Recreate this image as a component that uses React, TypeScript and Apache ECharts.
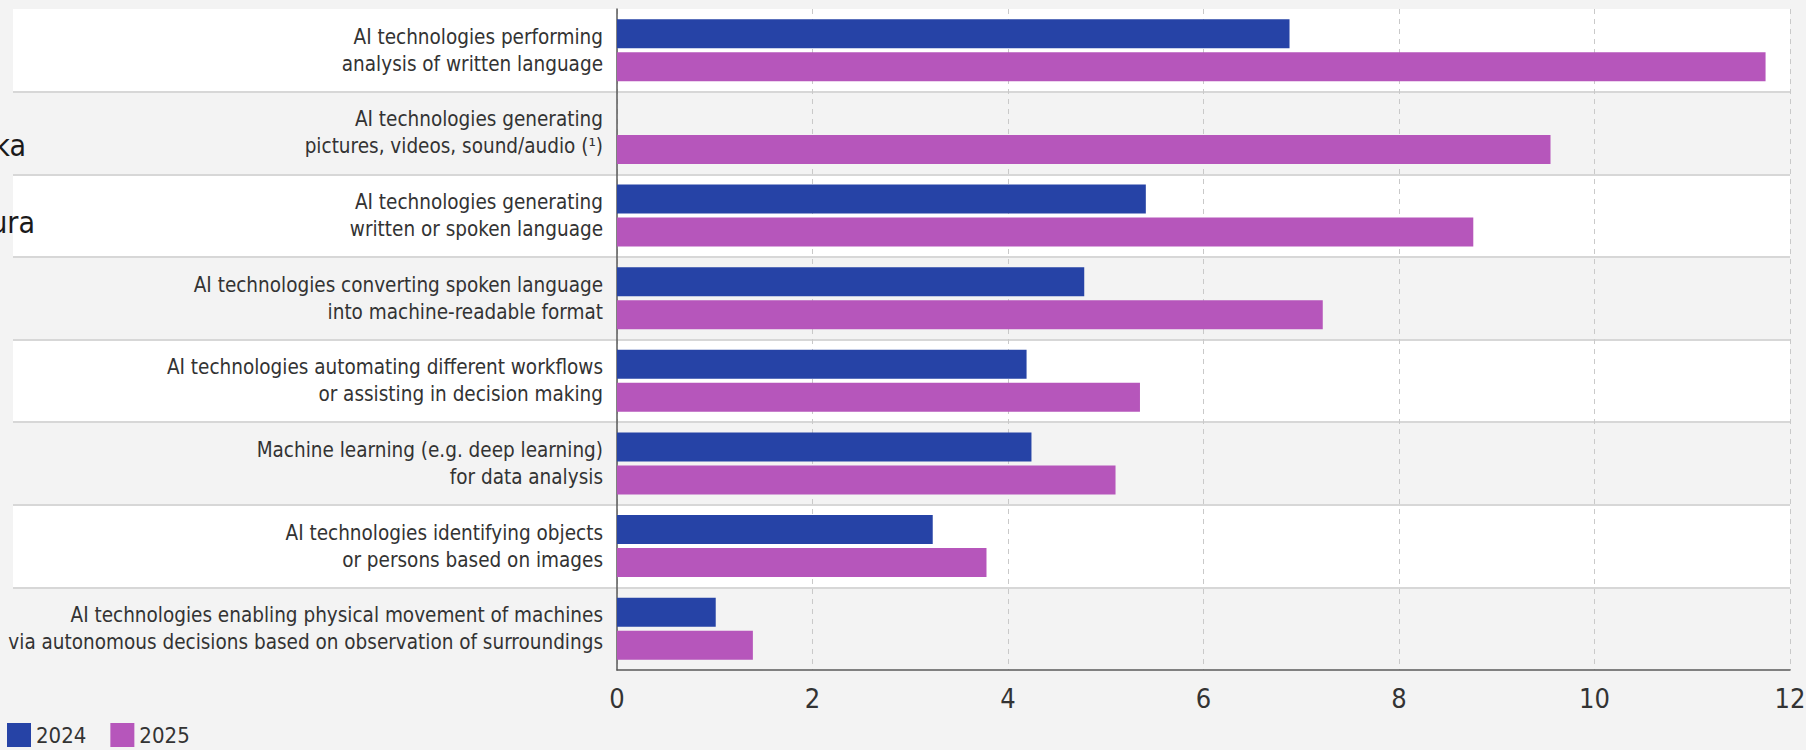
import React, { useEffect, useRef } from "react";
import * as echarts from "echarts";

const categories: string[] = [
  "AI technologies performing\nanalysis of written language",
  "AI technologies generating\npictures, videos, sound/audio (¹)",
  "AI technologies generating\nwritten or spoken language",
  "AI technologies converting spoken language\ninto machine-readable format",
  "AI technologies automating different workflows\nor assisting in decision making",
  "Machine learning (e.g. deep learning)\nfor data analysis",
  "AI technologies identifying objects\nor persons based on images",
  "AI technologies enabling physical movement of machines\nvia autonomous decisions based on observation of surroundings",
];

const values2024: (number | null)[] = [6.88, null, 5.41, 4.78, 4.19, 4.24, 3.23, 1.01];
const values2025: number[] = [11.75, 9.55, 8.76, 7.22, 5.35, 5.1, 3.78, 1.39];

const seriesNames: string[] = ["2024", "2025"];
const xTicks = { min: 0, max: 12, interval: 2 };

const LABEL_FONT = "'DejaVu Sans Condensed', 'Liberation Sans Narrow', 'Liberation Sans', sans-serif";

export default function App() {
  const ref = useRef<HTMLDivElement>(null);

  useEffect(() => {
    if (!ref.current) return;
    const chart = echarts.init(ref.current, undefined, { renderer: "svg" });
    const gridBox = { top: 9, bottom: 80, right: 16, containLabel: false, outerBoundsMode: "none" };
    chart.setOption({
      animation: false,
      backgroundColor: "#f3f3f3",
      textStyle: { fontFamily: LABEL_FONT },
      grid: [
        { left: 13, ...gridBox },
        { left: 617, ...gridBox },
      ],
      legend: {
        left: 7,
        top: 723,
        padding: 0,
        itemWidth: 24,
        itemHeight: 24,
        itemGap: 24,
        icon: "rect",
        data: seriesNames,
        textStyle: { fontSize: 22, color: "#333", fontFamily: LABEL_FONT },
      },
      xAxis: [
        { gridIndex: 0, type: "value", show: false, min: 0, max: 12 },
        {
          gridIndex: 1,
          type: "value",
          min: xTicks.min,
          max: xTicks.max,
          interval: xTicks.interval,
          axisLine: { show: true, lineStyle: { color: "#5a5a5a", width: 1.5 } },
          axisTick: { show: false },
          axisLabel: { fontSize: 27, color: "#333", margin: 15, fontFamily: LABEL_FONT },
          splitLine: { show: true, lineStyle: { color: "#c9c9c9", type: [5, 5], width: 1 } },
        },
      ],
      yAxis: [
        {
          gridIndex: 0,
          type: "category",
          data: categories,
          inverse: true,
          axisLine: { show: false },
          axisTick: { show: false },
          axisLabel: { show: false },
          splitArea: { show: true, areaStyle: { color: ["#ffffff", "#f3f3f3"] } },
          splitLine: {
            show: true,
            showMinLine: false,
            showMaxLine: false,
            lineStyle: { color: "#d7d7d7", width: 2 },
          },
        },
        {
          gridIndex: 1,
          type: "category",
          data: categories,
          inverse: true,
          axisLine: { show: true, onZero: false, lineStyle: { color: "#5a5a5a", width: 1.5 } },
          axisTick: { show: false },
          splitLine: { show: false },
          axisLabel: {
            fontSize: 20.5,
            lineHeight: 27,
            color: "#333",
            margin: 14,
            align: "right",
            fontFamily: LABEL_FONT,
          },
        },
      ],
      series: [
        {
          name: seriesNames[0],
          type: "bar",
          xAxisIndex: 1,
          yAxisIndex: 1,
          data: values2024,
          barWidth: 29,
          barGap: "14%",
          itemStyle: { color: "#2643a6" },
        },
        {
          name: seriesNames[1],
          type: "bar",
          xAxisIndex: 1,
          yAxisIndex: 1,
          data: values2025,
          barWidth: 29,
          barGap: "14%",
          itemStyle: { color: "#b656bb" },
        },
      ],
      graphic: [
        {
          type: "text",
          z: 100,
          style: {
            text: "ka",
            x: 26,
            y: 145,
            textAlign: "right",
            textVerticalAlign: "middle",
            font: "30px 'DejaVu Sans Condensed', sans-serif",
            fill: "#1a1a1a",
          },
        },
        {
          type: "text",
          z: 100,
          style: {
            text: "ura",
            x: 35,
            y: 222,
            textAlign: "right",
            textVerticalAlign: "middle",
            font: "30px 'DejaVu Sans Condensed', sans-serif",
            fill: "#1a1a1a",
          },
        },
      ],
    });
    return () => chart.dispose();
  }, []);

  return (
    <div
      ref={ref}
      style={{ position: "fixed", left: 0, top: 0, width: 1806, height: 750, background: "#f3f3f3" }}
    />
  );
}
